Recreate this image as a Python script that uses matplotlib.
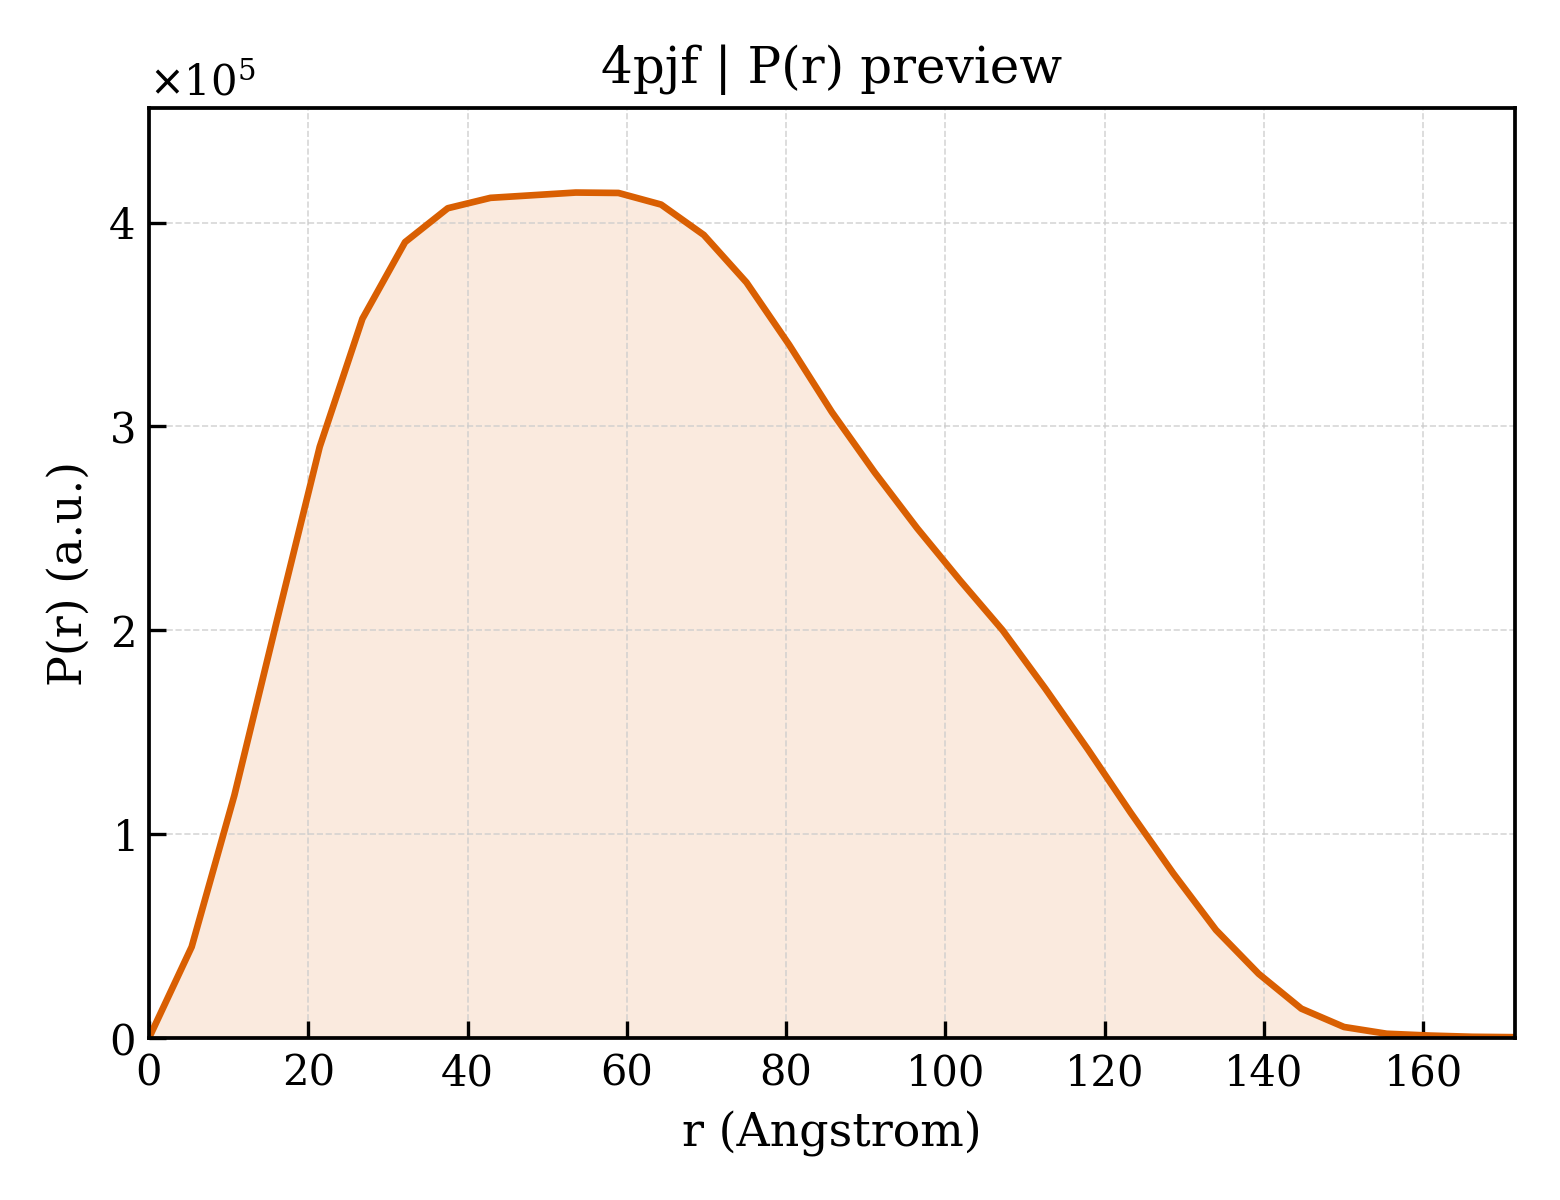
import matplotlib
matplotlib.use("Agg")
import matplotlib.pyplot as plt
from matplotlib.ticker import ScalarFormatter

# P(r) preview for 4pjf
r_values = [0.0, 5.36, 10.72, 16.08, 21.44, 26.80, 32.16, 37.52, 42.88, 48.23,
            53.59, 58.95, 64.31, 69.67, 75.03, 80.39, 85.75, 91.11, 96.47, 101.83,
            107.19, 112.55, 117.91, 123.27, 128.63, 133.98, 139.34, 144.70, 150.06,
            155.42, 160.78, 166.14, 171.50]
p_values = [0.0, 0.447, 1.19, 2.05, 2.90, 3.528, 3.904, 4.070, 4.121, 4.134,
            4.147, 4.145, 4.088, 3.939, 3.706, 3.40, 3.07, 2.775, 2.50, 2.245,
            2.0, 1.714, 1.415, 1.105, 0.807, 0.53, 0.315, 0.144, 0.054,
            0.021, 0.012, 0.006, 0.004]
p_values = [p * 1e5 for p in p_values]

plt.rcParams['font.family'] = ['DejaVu Serif']
color = '#d95f02'

fig = plt.figure(figsize=(5.2, 4), dpi=300)
ax = fig.add_axes([0.0955, 0.135, 0.8755, 0.775])

ax.plot(r_values, p_values, color=color, lw=1.6)
ax.fill_between(r_values, p_values, 0, color=color, alpha=0.13, lw=0)

ax.set_xlim(0, r_values[-1])
ax.set_ylim(0, max(p_values) * 1.1)

fmt = ScalarFormatter(useMathText=True)
fmt.set_powerlimits((0, 0))
ax.yaxis.set_major_formatter(fmt)
ax.yaxis.get_offset_text().set_fontsize(10)

ax.tick_params(direction='in', length=4, width=0.8, labelsize=10)
for s in ax.spines.values():
    s.set_linewidth(0.9)

ax.grid(True, ls='--', lw=0.4, color='#cccccc', alpha=0.8)

ax.set_xlabel('r (Angstrom)', fontsize=11)
ax.set_ylabel('P(r) (a.u.)', fontsize=11)
ax.set_title('4pjf | P(r) preview', fontsize=12)

fig.savefig('out.png', dpi=300)
